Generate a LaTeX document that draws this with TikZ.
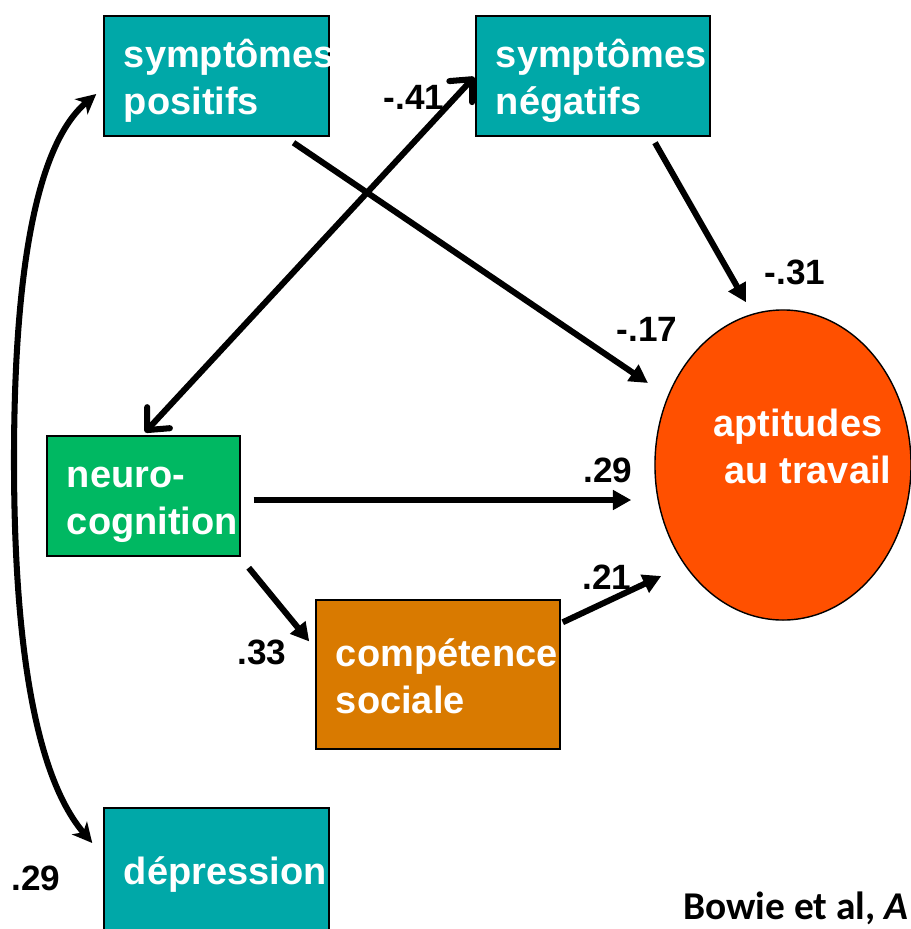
\documentclass[tikz,border=0pt]{standalone}
\usepackage{fontspec}
\setmainfont{Liberation Sans}
\newfontfamily\citefont{Carlito}
\usetikzlibrary{arrows.meta,calc,shapes.geometric}

\definecolor{boxteal}{RGB}{0,168,168}
\definecolor{boxgreen}{RGB}{0,184,98}
\definecolor{boxorange}{RGB}{217,122,0}
\definecolor{ovalred}{RGB}{255,80,0}

\hyphenpenalty=10000
\exhyphenpenalty=10000
\newcommand{\ls}{\rule[-5.7pt]{0pt}{33.4pt}}

\tikzset{
	varbox/.style={draw=black, line width=1pt, text=white, inner xsep=0.5cm, inner ysep=0pt, align=left, font=\fontsize{27}{33.4}\selectfont\bfseries},
	effect/.style={-{Triangle[length=13pt,width=13.5pt]}, line width=4.3pt},
	covar/.style={{Straight Barb[length=12pt,width=22pt,round]}-{Straight Barb[length=12pt,width=22pt,round]}, line width=4.3pt},
	corr/.style={{Stealth[length=14pt,width=14pt,inset=4pt]}-{Stealth[length=14pt,width=14pt,inset=4pt]}, line width=4.3pt},
	coef/.style={font=\fontsize{25}{30}\selectfont\bfseries}
}

\begin{document}
\begin{tikzpicture}[x=0.025cm, y=-0.025cm]
		\useasboundingbox (0,0) rectangle (911,929);
		\clip (0,0) rectangle (911,929);
		
		\node [varbox, fill=boxteal, text width=4.625cm, minimum height=3cm] (pos) at (216.5,76) {\ls symptômes\\\ls positifs};
		\node [varbox, fill=boxteal, text width=4.85cm, minimum height=3cm] (neg) at (593,76) {\ls symptômes\\\ls négatifs};
		\node [varbox, fill=boxgreen, text width=3.825cm, minimum height=3cm] (neuro) at (143.5,496) {\ls neuro-\\\ls cognition};
		\node [varbox, fill=boxorange, text width=5.1cm, minimum height=3.725cm] (comp) at (438,674.5) {\ls compétence\\\ls sociale};
		\node [varbox, fill=boxteal, text width=4.625cm, minimum height=3.075cm] (dep) at (216.5,869.5) {\ls dépression};
		
		\node [ellipse, draw=black, line width=1pt, fill=ovalred, minimum width=6.4cm, minimum height=7.75cm, inner sep=0pt] (apt) at (783,465) {};
		\node [text=white, align=center, font=\fontsize{27}{33.4}\selectfont\bfseries] (apttext) at (808,444.5) {\ls aptitudes\rule{0.5cm}{0pt}\\\ls au travail};
		
		\draw [corr] ($(pos.west)+(-7,18)$) .. controls (30,150) and (14,300) .. (14,460) .. controls (14,620) and (30,770) .. ($(dep.west)+(-11,-26.5)$);
		\draw [covar] ($(neuro.north)+(1.5,-3)$) -- ($(neg.west)+(-1,1)$);
		
		\draw [effect] ($(pos.south)+(77,6)$) -- ($(apt.center)+(-135,-82)$);
		\draw [effect] ($(neg.south)+(62,6)$) -- ($(apt.north)+(-37,-7)$);
		\draw [effect] ($(neuro.east)+(13,4)$) -- ($(apt.west)+(-23,35)$);
		\draw [effect] ($(neuro.south east)+(8,11)$) -- ($(comp.west)+(-6,-33)$);
		\draw [effect] ($(comp.north east)+(2,23)$) -- ($(apt.west)+(7,111)$);
		
		\node [coef] (c41) at (414,97) {-.41};
		\node [coef] (c31) at (795,272) {-.31};
		\node [coef] (c17) at (647,329) {-.17};
		\node [coef] (c29n) at (608,470) {.29};
		\node [coef] (c21) at (607,577) {.21};
		\node [coef] (c33) at (262,652) {.33};
		\node [coef] (c29d) at (36,878) {.29};
		
		\node [anchor=base west, inner sep=0pt, font=\citefont\fontsize{28}{33}\selectfont\bfseries] (cite) at (683,919) {Bowie et al, \textit{A}};
\end{tikzpicture}
\end{document}
